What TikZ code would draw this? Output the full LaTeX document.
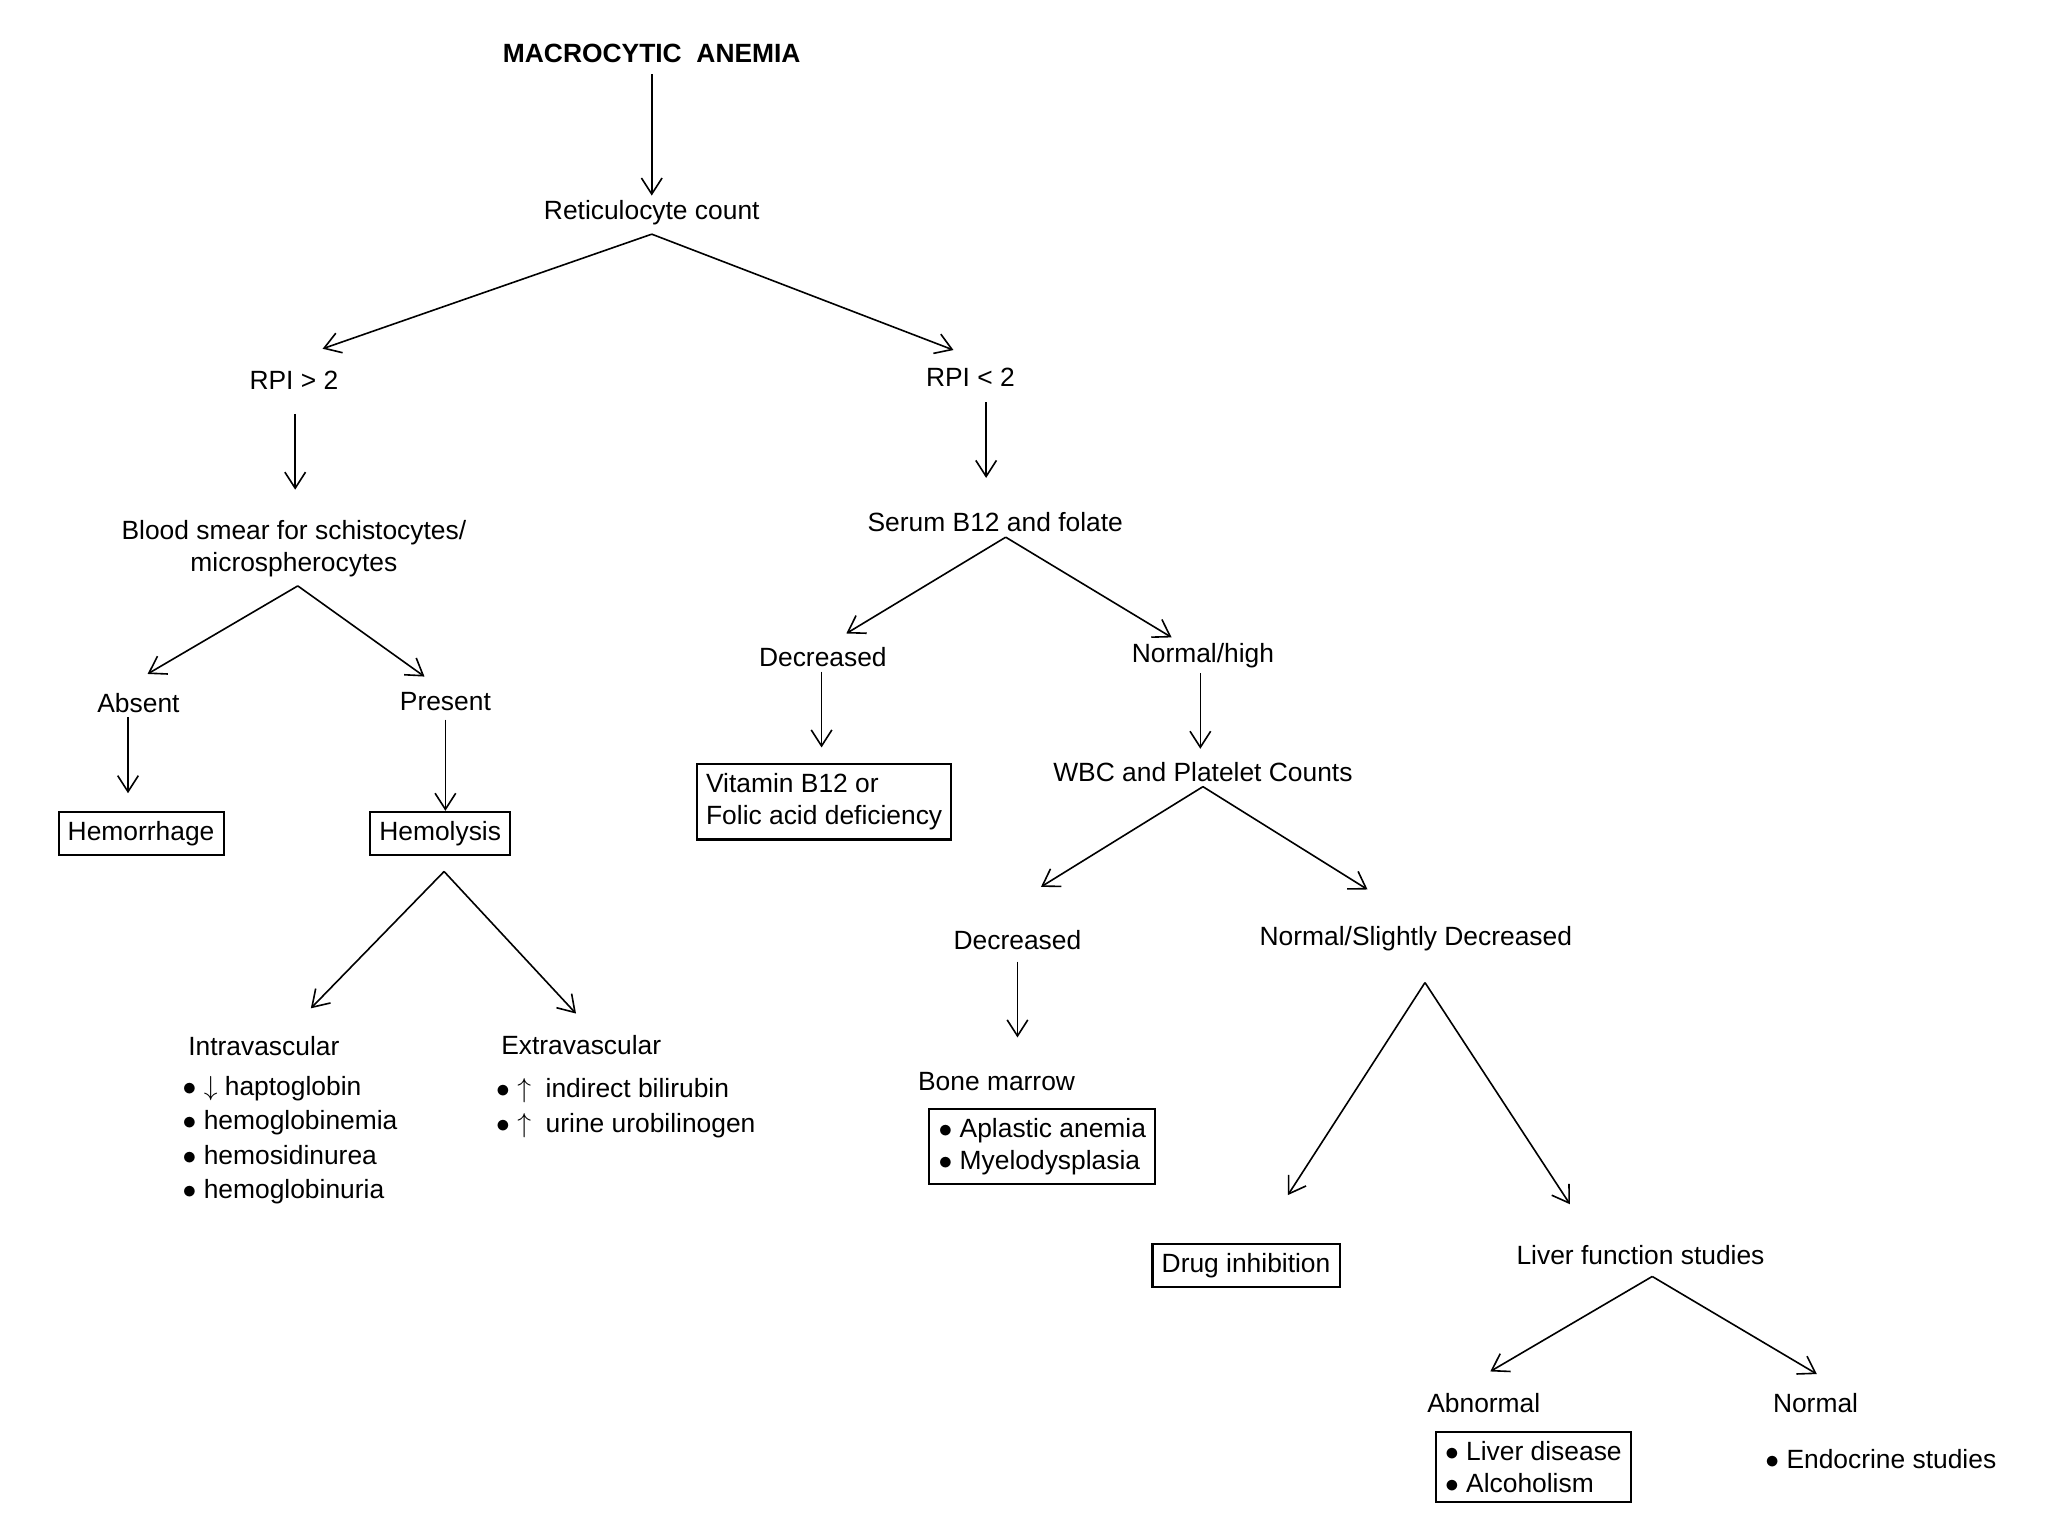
\documentclass[tikz,border=0pt]{standalone}
\usepackage{fontspec}
\setmainfont{Liberation Sans}
\usetikzlibrary{arrows.meta}
\begin{document}
\begin{tikzpicture}[x=0.02cm,y=-0.02cm,
  every node/.style={font=\fontsize{11.5}{14}\selectfont, inner sep=2pt},
  box/.style={draw, line width=0.9pt, inner sep=4pt},
  arr/.style={-{Straight Barb[length=7pt,width=9pt]}, line width=0.7pt},
  lst/.style={align=left, anchor=north west, font=\fontsize{11.5}{15}\selectfont}]
\fill[white] (0,0) rectangle (1568,1176);
\node[font=\bfseries\fontsize{11.5}{14}\selectfont] (title) at (499,41) {MACROCYTIC\ \ ANEMIA};
\node (ret) at (499,163) {Reticulocyte count};
\node (rpig) at (225,291) {RPI > 2};
\node (rpil) at (743,289) {RPI < 2};
\node[align=center] (smear) at (225,420) {Blood smear for schistocytes/\\microspherocytes};
\node (absent) at (106,538) {Absent};
\node (present) at (341,537) {Present};
\node[box] (hemor) at (108,638) {Hemorrhage};
\node[box] (hemol) at (337,638) {Hemolysis};
\node (intra) at (202,801) {Intravascular};
\node[lst] (intral) at (136,820) {$\bullet$ $\downarrow$ haptoglobin\\$\bullet$ hemoglobinemia\\$\bullet$ hemosidinurea\\$\bullet$ hemoglobinuria};
\node (extra) at (445,800) {Extravascular};
\node[lst] (extral) at (376,822) {$\bullet$ $\uparrow$\ \ indirect bilirubin\\$\bullet$ $\uparrow$\ \ urine urobilinogen};
\node (serum) at (762,400) {Serum B12 and folate};
\node (dec1) at (630,503) {Decreased};
\node (nh) at (921,502) {Normal/high};
\node[box,align=left] (vit) at (631,614) {Vitamin B12 or\\ Folic acid deficiency};
\node (wbc) at (921,591) {WBC and Platelet Counts};
\node (dec2) at (779,720) {Decreased};
\node (nsd) at (1084,719) {Normal/Slightly Decreased};
\node (bm) at (763,828) {Bone marrow};
\node[box,align=left] (bmbox) at (798,878) {$\bullet$ Aplastic anemia\\$\bullet$ Myelodysplasia};
\node[box] (drug) at (954,969) {Drug inhibition};
\node (liver) at (1256,961) {Liver function studies};
\node (abn) at (1136,1074) {Abnormal};
\node (norm) at (1390,1074) {Normal};
\node[box,align=left] (lbox) at (1174,1123) {$\bullet$ Liver disease\\$\bullet$ Alcoholism};
\node (endo) at (1440,1117) {$\bullet$ Endocrine studies};
\coordinate (e1) at (247,267); \coordinate (e2) at (730,268);
\draw[arr] (title.south) ++(0,5) coordinate (a0) (a0) -- (ret.north);
\draw[arr] (ret.south) ++(0,3) coordinate (r0) (r0) -- (e1);
\draw[arr] (r0) -- (e2);
\draw[arr] (rpig.south) ++(1,15) coordinate (b1) (b1) -- ++(0,58);
\draw[arr] (rpil.south) ++(12,8) coordinate (a1) (a1) -- ++(0,58);
\draw[arr] (smear.south) ++(3,3) coordinate (s0) (s0) -- (113,516);
\draw[arr] (s0) -- (325,518);
\draw[arr] (absent.south) ++(-8,0) coordinate (a2) (a2) -- ++(0,58);
\draw[arr] (present.south) ++(0,3) coordinate (p0) (p0) -- (p0|-hemol.north);
\draw[arr] (hemol.south) ++(3,12) coordinate (a3) (a3) -- (238,772);
\draw[arr] (a3) -- (441,776);
\draw[arr] (serum.south) ++(8,0) coordinate (a4) (a4) -- (648,485);
\draw[arr] (a4) -- (897,488);
\draw[arr] (dec1.south) ++(-1,0) coordinate (a5) (a5) -- ++(0,58);
\draw[arr] (nh.south) ++(-2,0) coordinate (a6) (a6) -- ++(0,58);
\draw[arr] (wbc.south) -- (797,679);
\draw[arr] (wbc.south) -- (1047,681);
\draw[arr] (dec2.south) ++(0,5) coordinate (a7) (a7) -- ++(0,58);
\draw[arr] (nsd.south) ++(7,20) coordinate (a8) (a8) -- (986,915);
\draw[arr] (a8) -- (1202,922);
\draw[arr] (liver.south) ++(9,5) coordinate (a9) (a9) -- (1141,1050);
\draw[arr] (a9) -- (1391,1052);
\end{tikzpicture}
\end{document}
